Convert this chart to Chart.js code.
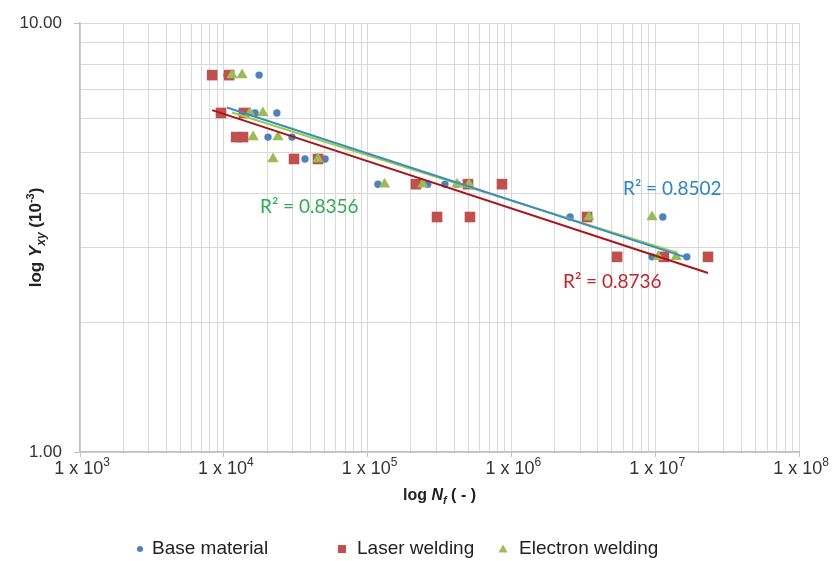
<!DOCTYPE html>
<html lang="en">
<head>
<meta charset="UTF-8" />
<title>Shear strain amplitude vs cycles to failure</title>
<style>
  html, body { margin: 0; padding: 0; background: #fff; }
  #chart { display: block; }
</style>
</head>
<body>
<canvas id="chart" width="835" height="561"></canvas>

<script src="https://cdn.jsdelivr.net/npm/chart.js"></script>
<script>
// cycles to failure N_f and shear strain amplitude (x 10^-3)
const baseN = [10500, 17600, 16500, 23400, 20300, 29800, 36700, 50600, 118000, 262000, 345000, 419000, 2560000, 11300000, 9500000, 16600000];
const baseG = [7.56, 7.56, 6.17, 6.17, 5.42, 5.42, 4.82, 4.82, 4.21, 4.21, 4.21, 4.21, 3.53, 3.53, 2.85, 2.85];

const laserN = [8300, 10900, 9560, 13800, 12200, 13600, 30800, 45200, 217000, 499000, 860000, 304000, 515000, 3360000, 5430000, 11500000, 23300000];
const laserG = [7.56, 7.56, 6.17, 6.17, 5.42, 5.42, 4.82, 4.82, 4.21, 4.21, 4.21, 3.53, 3.53, 3.53, 2.85, 2.85, 2.85];

const electronN = [11400, 13400, 15200, 18700, 16000, 23800, 22000, 45200, 131000, 242000, 419000, 507000, 3460000, 9500000, 10500000, 14000000];
const electronG = [7.56, 7.56, 6.17, 6.17, 5.42, 5.42, 4.82, 4.82, 4.21, 4.21, 4.21, 4.21, 3.53, 3.53, 2.85, 2.85];

const seriesNames = ['Base material', 'Laser welding', 'Electron welding'];
const r2Labels = ['R² = 0.8502', 'R² = 0.8736', 'R² = 0.8356'];

const xDecades = [1e3, 1e4, 1e5, 1e6, 1e7, 1e8];
const yDecades = [1, 10];
const minorSteps = [1, 2, 3, 4, 5, 6, 7, 8, 9];

const FONT = "'Liberation Sans', Arial, sans-serif";
const colors = {
  base: '#4F81BD', laser: '#C0504D', electron: '#9BBB59',
  baseTrend: '#3F8AC0', laserTrend: '#A8141C', electronTrend: '#92D050',
  baseText: '#2E86C1', laserText: '#C0272D', electronText: '#33AA55'
};

// grid ticks: every 1..9 step in each decade
function logTicks(decades) {
  const out = [];
  for (let i = 0; i < decades.length - 1; i++) {
    for (const s of minorSteps) out.push(s * decades[i]);
  }
  out.push(decades[decades.length - 1]);
  return out;
}
const xGrid = logTicks(xDecades);
const yGrid = logTicks(yDecades);

// Excel style power trendline: straight fit in log-log space
function powerFit(xs, ys) {
  const lx = xs.map(Math.log10), ly = ys.map(Math.log10);
  const n = lx.length;
  const mx = lx.reduce((a, b) => a + b, 0) / n;
  const my = ly.reduce((a, b) => a + b, 0) / n;
  let sxy = 0, sxx = 0;
  for (let i = 0; i < n; i++) {
    sxy += (lx[i] - mx) * (ly[i] - my);
    sxx += (lx[i] - mx) * (lx[i] - mx);
  }
  const b = sxy / sxx, a = my - b * mx;
  const x0 = Math.min(...xs), x1 = Math.max(...xs);
  return [x0, x1].map(x => ({ x, y: Math.pow(10, a + b * Math.log10(x)) }));
}

const toPts = (xs, ys) => xs.map((x, i) => ({ x, y: ys[i] }));

function drawRich(ctx, runs, x, y, align) {
  let total = 0;
  for (const r of runs) { ctx.font = r.font; total += ctx.measureText(r.t).width; }
  let cx = align === 'center' ? x - total / 2 : x;
  for (const r of runs) {
    ctx.font = r.font;
    ctx.fillStyle = r.color || '#222';
    ctx.fillText(r.t, cx, y + (r.dy || 0));
    cx += ctx.measureText(r.t).width;
  }
}

const textPlugin = {
  id: 'texts',
  afterDraw(chart) {
    const ctx = chart.ctx;
    const xs = chart.scales.x, area = chart.chartArea;
    ctx.save();
    ctx.textBaseline = 'alphabetic';
    ctx.textAlign = 'left';

    // x tick labels  "1 x 10^n"
    for (const v of xDecades) {
      const px = xs.getPixelForValue(v);
      const e = Math.round(Math.log10(v));
      drawRich(ctx, [
        { t: '1 x 10', font: '18px ' + FONT, color: '#333' },
        { t: String(e), font: '12px ' + FONT, color: '#333', dy: -8 }
      ], px + 2, area.bottom + 22, 'center');
    }

    // x axis title
    drawRich(ctx, [
      { t: 'log ', font: 'bold 16px ' + FONT },
      { t: 'N', font: 'italic bold 16px ' + FONT },
      { t: 'f', font: 'italic bold 11px ' + FONT, dy: 4 },
      { t: ' ( - )', font: 'bold 16px ' + FONT }
    ], (area.left + area.right) / 2, area.bottom + 48, 'center');

    // y axis title (rotated)
    ctx.save();
    ctx.translate(41, (area.top + area.bottom) / 2);
    ctx.rotate(-Math.PI / 2);
    drawRich(ctx, [
      { t: 'log ', font: 'bold 17px ' + FONT },
      { t: 'Y', font: 'italic bold 17px ' + FONT },
      { t: 'xy', font: 'italic bold 12px ' + FONT, dy: 4 },
      { t: ' (10', font: 'bold 17px ' + FONT },
      { t: '-3', font: 'bold 11px ' + FONT, dy: -7 },
      { t: ')', font: 'bold 17px ' + FONT }
    ], 0, 0, 'center');
    ctx.restore();

    // R² labels
    const rFont = "19px Lato, 'Open Sans', sans-serif";
    drawRich(ctx, [{ t: r2Labels[0], font: rFont, color: colors.baseText }], 623, 195);
    drawRich(ctx, [{ t: r2Labels[1], font: rFont, color: colors.laserText }], 563, 288);
    drawRich(ctx, [{ t: r2Labels[2], font: rFont, color: colors.electronText }], 260, 213);

    // legend
    const ly = 549;
    ctx.fillStyle = colors.base;
    ctx.beginPath(); ctx.arc(140, ly, 3, 0, Math.PI * 2); ctx.fill();
    ctx.fillStyle = colors.laser;
    ctx.fillRect(338, ly - 4, 8, 8);
    ctx.fillStyle = colors.electron;
    ctx.beginPath();
    ctx.moveTo(503, ly - 4.5); ctx.lineTo(507.5, ly + 3.5); ctx.lineTo(498.5, ly + 3.5);
    ctx.closePath(); ctx.fill();
    ctx.textBaseline = 'middle';
    const lFont = '19px ' + FONT;
    drawRich(ctx, [{ t: seriesNames[0], font: lFont }], 152, ly);
    drawRich(ctx, [{ t: seriesNames[1], font: lFont }], 357, ly);
    drawRich(ctx, [{ t: seriesNames[2], font: lFont }], 519, ly);
    ctx.restore();
  }
};

const isMajor = v => Math.abs(Math.log10(v) - Math.round(Math.log10(v))) < 1e-9;

new Chart(document.getElementById('chart'), {
  type: 'scatter',
  data: {
    datasets: [
      { label: seriesNames[0], data: toPts(baseN, baseG), order: 3,
        pointStyle: 'circle', pointRadius: 3.7, backgroundColor: colors.base, borderWidth: 0 },
      { label: seriesNames[1], data: toPts(laserN, laserG), order: 2,
        pointStyle: 'rect', pointRadius: 7.5, backgroundColor: colors.laser, borderWidth: 0 },
      { label: seriesNames[2], data: toPts(electronN, electronG), order: 1,
        pointStyle: 'triangle', pointRadius: 6.5, backgroundColor: colors.electron, borderWidth: 0 },
      { label: 'trend base', data: powerFit(baseN, baseG), order: 0, showLine: true,
        pointRadius: 0, borderColor: colors.baseTrend, borderWidth: 2 },
      { label: 'trend laser', data: powerFit(laserN, laserG), order: 0, showLine: true,
        pointRadius: 0, borderColor: colors.laserTrend, borderWidth: 2 },
      { label: 'trend electron', data: powerFit(electronN, electronG), order: 0, showLine: true,
        pointRadius: 0, borderColor: colors.electronTrend, borderWidth: 2 }
    ]
  },
  options: {
    responsive: false,
    animation: false,
    layout: { padding: { top: 23, right: 36, left: 0, bottom: 0 } },
    plugins: {
      legend: { display: false },
      tooltip: { enabled: false }
    },
    scales: {
      x: {
        type: 'logarithmic',
        min: 1e3, max: 1e8,
        afterBuildTicks: s => { s.ticks = xGrid.map(v => ({ value: v, major: isMajor(v) })); },
        afterFit: s => { s.height = 109; },
        ticks: { autoSkip: false, maxRotation: 0, callback: () => '' },
        grid: {
          color: '#d9d9d9', lineWidth: 1, tickLength: 5,
          tickColor: c => (c.tick && isMajor(c.tick.value)) ? '#bfbfbf' : 'rgba(0,0,0,0)'
        },
        border: { color: '#bfbfbf', width: 1.5 }
      },
      y: {
        type: 'logarithmic',
        min: 1, max: 10,
        afterBuildTicks: s => { s.ticks = yGrid.map(v => ({ value: v, major: isMajor(v) })); },
        afterFit: s => { s.width = 80; },
        ticks: {
          autoSkip: false, padding: 12, color: '#333',
          font: { family: FONT, size: 17 },
          callback: v => v === 10 ? '10.00' : (v === 1 ? '1.00' : '')
        },
        grid: {
          color: '#d9d9d9', lineWidth: 1, tickLength: 6,
          tickColor: c => (c.tick && isMajor(c.tick.value)) ? '#bfbfbf' : 'rgba(0,0,0,0)'
        },
        border: { color: '#bfbfbf', width: 1.5 }
      }
    }
  },
  plugins: [textPlugin]
});
</script>
</body>
</html>
